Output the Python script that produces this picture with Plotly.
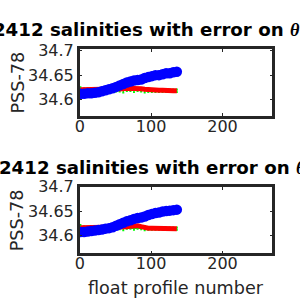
import plotly.graph_objects as go

profiles = [1, 6, 11, 16, 21, 26, 31, 36, 41, 46, 51, 56, 61, 66, 71, 76, 81, 86, 91, 96,
            101, 106, 111, 116, 121, 126, 131, 136]

# top panel
blue_top = [34.612, 34.612, 34.613, 34.613, 34.614, 34.615, 34.617, 34.619, 34.621, 34.623,
            34.626, 34.629, 34.632, 34.635, 34.637, 34.639, 34.640, 34.641, 34.644, 34.646,
            34.648, 34.650, 34.650, 34.652, 34.654, 34.654, 34.656, 34.657]
red_top = [34.620, 34.620, 34.620, 34.620, 34.620, 34.620, 34.620, 34.620, 34.620, 34.620,
           34.621, 34.621, 34.622, 34.623, 34.623, 34.624, 34.624, 34.622, 34.621, 34.620,
           34.619, 34.619, 34.619, 34.619, 34.618, 34.618, 34.618, 34.618]
green_top = [34.621, 34.620, 34.620, 34.619, 34.619, 34.619, 34.619, 34.619, 34.619, 34.619,
             34.619, 34.619, 34.619, 34.620, 34.620, 34.620, 34.620, 34.619, 34.619, 34.618,
             34.618, 34.618, 34.618, 34.618, 34.618, 34.618, 34.618, 34.618]

# bottom panel
blue_bot = [34.607, 34.607, 34.608, 34.609, 34.610, 34.611, 34.612, 34.614, 34.615, 34.617,
            34.620, 34.623, 34.626, 34.629, 34.631, 34.634, 34.636, 34.637, 34.639, 34.642,
            34.644, 34.646, 34.647, 34.649, 34.650, 34.651, 34.652, 34.653]
red_bot = [34.616, 34.616, 34.616, 34.616, 34.616, 34.616, 34.616, 34.616, 34.616, 34.616,
           34.616, 34.616, 34.617, 34.618, 34.619, 34.620, 34.620, 34.618, 34.616, 34.615,
           34.615, 34.615, 34.615, 34.615, 34.614, 34.614, 34.614, 34.614]
green_bot = [34.617, 34.616, 34.615, 34.615, 34.615, 34.615, 34.615, 34.615, 34.615, 34.615,
             34.615, 34.615, 34.615, 34.616, 34.616, 34.616, 34.616, 34.615, 34.615, 34.614,
             34.614, 34.614, 34.614, 34.614, 34.614, 34.614, 34.614, 34.614]
green_err = [0.005, 0.003, 0.003, 0.003, 0.003, 0.003, 0.003, 0.003, 0.003, 0.003,
             0.003, 0.003, 0.005, 0.003, 0.003, 0.005, 0.003, 0.003, 0.005, 0.003,
             0.003, 0.003, 0.003, 0.003, 0.003, 0.003, 0.003, 0.003]

y_ticks = [34.6, 34.65, 34.7]
y_ticktext = ["34.6", "34.65", "34.7"]
x_ticks = [0, 100, 200]

theta = "<span style='font-family:\"Liberation Serif\"'><i>θ</i></span>"
titles = ["5902412 salinities with error on " + theta + " = 2.5 °C",
          "5902412 salinities with error on " + theta + " = 2.75 °C"]

fig = go.Figure()
panels = [(blue_top, red_top, green_top, "x", "y"), (blue_bot, red_bot, green_bot, "x2", "y2")]
for blue, red, green, xa, ya in panels:
    fig.add_trace(go.Scatter(x=profiles, y=green, mode="lines", xaxis=xa, yaxis=ya,
                             line=dict(color="#00ff00", width=1.5),
                             error_y=dict(type="data", array=green_err, color="#00ff00",
                                          thickness=1.5, width=1)))
    fig.add_trace(go.Scatter(x=profiles, y=red, mode="lines", xaxis=xa, yaxis=ya,
                             line=dict(color="#ff0000", width=5)))
    fig.add_trace(go.Scatter(x=profiles, y=blue, mode="markers", xaxis=xa, yaxis=ya,
                             marker=dict(color="#0000ff", size=10.5)))

axis_common = dict(showline=True, mirror="ticks", linecolor="#262626", linewidth=2.5,
                   ticks="inside", ticklen=3, tickcolor="#262626", showgrid=False,
                   zeroline=False, tickfont=dict(family="DejaVu Sans", size=16, color="#262626"))

fig.update_layout(
    width=300, height=300, margin=dict(l=0, r=0, t=0, b=0),
    paper_bgcolor="white", plot_bgcolor="white", showlegend=False,
    xaxis=dict(domain=[0.2533, 0.9067], range=[0, 270], tickvals=x_ticks, anchor="y",
               ticklabelstandoff=-6, **axis_common),
    yaxis=dict(domain=[0.6333, 0.8617], range=[34.567, 34.703], tickvals=y_ticks,
               ticktext=y_ticktext, anchor="x", **axis_common),
    xaxis2=dict(domain=[0.2533, 0.9067], range=[0, 270], tickvals=x_ticks, anchor="y2",
                ticklabelstandoff=-6, **axis_common),
    yaxis2=dict(domain=[0.16, 0.389], range=[34.563, 34.70], tickvals=y_ticks,
                ticktext=y_ticktext, anchor="x2", **axis_common),
)

ann_font = dict(family="DejaVu Sans", size=17.6, color="#262626")
title_font = dict(family="DejaVu Sans", size=18.2, color="black")
fig.add_annotation(text="<b>" + titles[0] + "</b>", x=-52.5 / 300, y=1 - 21 / 300, xref="paper", yref="paper",
                   showarrow=False, font=title_font, xanchor="left", yanchor="middle")
fig.add_annotation(text="<b>" + titles[1] + "</b>", x=-46.5 / 300, y=1 - 163 / 300, xref="paper", yref="paper",
                   showarrow=False, font=title_font, xanchor="left", yanchor="middle")
fig.add_annotation(text="PSS-78", x=13 / 300, y=1 - 76 / 300, xref="paper", yref="paper",
                   showarrow=False, font=ann_font, textangle=-90, xanchor="center", yanchor="middle")
fig.add_annotation(text="PSS-78", x=13 / 300, y=1 - 218 / 300, xref="paper", yref="paper",
                   showarrow=False, font=ann_font, textangle=-90, xanchor="center", yanchor="middle")
fig.add_annotation(text="float profile number", x=174 / 300, y=1 - 288 / 300, xref="paper", yref="paper",
                   showarrow=False, font=ann_font, xanchor="center", yanchor="middle")

fig.write_html("out.html")
